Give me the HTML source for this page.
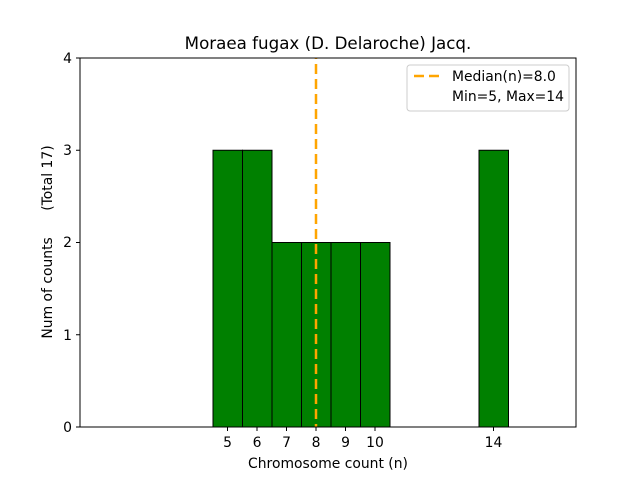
<!DOCTYPE html>
<html><head><meta charset="utf-8"><style>body{margin:0;background:#fff}</style></head><body>
<svg width="640" height="480" xmlns="http://www.w3.org/2000/svg" font-family="DejaVu Sans, Liberation Sans, sans-serif">
<rect width="640" height="480" fill="#fff"/>
<g fill="#008000" stroke="#000" stroke-width="1">
<rect x="213" y="150.25" width="29.5" height="276.75"/>
<rect x="242.5" y="150.25" width="29.5" height="276.75"/>
<rect x="272" y="242.5" width="29.5" height="184.5"/>
<rect x="301.5" y="242.5" width="29.5" height="184.5"/>
<rect x="331" y="242.5" width="29.5" height="184.5"/>
<rect x="360.5" y="242.5" width="29.5" height="184.5"/>
<rect x="479" y="150.25" width="29.5" height="276.75"/>
</g>
<line x1="316" y1="58" x2="316" y2="427" stroke="#FFA500" stroke-width="2.5" stroke-dasharray="10,5" stroke-dashoffset="9"/>
<rect x="80" y="58" width="496" height="369" fill="none" stroke="#000" stroke-width="1"/>
<g stroke="#000">
<line x1="80" y1="427" x2="76" y2="427"/><line x1="80" y1="334.75" x2="76" y2="334.75"/><line x1="80" y1="242.5" x2="76" y2="242.5"/><line x1="80" y1="150.25" x2="76" y2="150.25"/><line x1="80" y1="58" x2="76" y2="58"/>
<line x1="227.5" y1="427" x2="227.5" y2="431"/><line x1="257" y1="427" x2="257" y2="431"/><line x1="286.5" y1="427" x2="286.5" y2="431"/><line x1="316" y1="427" x2="316" y2="431"/><line x1="345.5" y1="427" x2="345.5" y2="431"/><line x1="375" y1="427" x2="375" y2="431"/><line x1="493.5" y1="427" x2="493.5" y2="431"/>
</g>
<g font-size="13.9" fill="#000" text-anchor="end">
<text x="72" y="432">0</text><text x="72" y="340">1</text><text x="72" y="247">2</text><text x="72" y="155">3</text><text x="72" y="63">4</text>
</g>
<g font-size="13.9" fill="#000" text-anchor="middle">
<text x="227.5" y="447">5</text><text x="257" y="447">6</text><text x="286.5" y="447">7</text><text x="316" y="447">8</text><text x="345.5" y="447">9</text><text x="375" y="447">10</text><text x="493.5" y="447">14</text>
<text x="328" y="468">Chromosome count (n)</text>
<text x="328" y="49" font-size="16.7">Moraea fugax (D. Delaroche) Jacq.</text>
<text transform="translate(52,242) rotate(-90)" style="white-space:pre">Num of counts      (Total 17)</text>
</g>
<rect x="407" y="65" width="162" height="46" fill="#fff" stroke="#ccc" rx="3"/>
<line x1="414" y1="76" x2="442" y2="76" stroke="#FFA500" stroke-width="2.5" stroke-dasharray="10,5"/>
<text x="452" y="81" font-size="13.9">Median(n)=8.0</text>
<text x="452" y="101" font-size="13.9">Min=5, Max=14</text>
</svg>
</body></html>
